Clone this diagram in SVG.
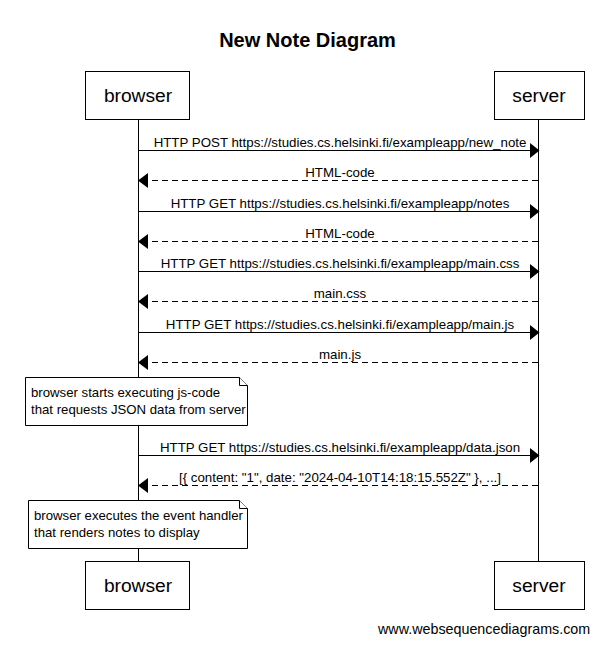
<svg xmlns="http://www.w3.org/2000/svg" width="615" height="648" viewBox="0 0 615 648">
<style>
text{font-family:"Liberation Sans",Arial,sans-serif;fill:#000}
.title{font-size:20px;font-weight:bold;text-anchor:middle}
.actor{font-size:19.2px;text-anchor:middle}
.box{fill:#fff;stroke:#000;stroke-width:1}
.life{stroke:#000;stroke-width:1}
.msg{font-size:13.3px;text-anchor:middle}
.solid{stroke:#000;stroke-width:1;fill:none}
.dash{stroke:#000;stroke-width:1;fill:none;stroke-dasharray:6,4}
.head{fill:#000}
.note{fill:#fff;stroke:#000;stroke-width:1}
.nt{font-size:13.2px}
.foot{font-size:14.3px}
</style>
<rect width="615" height="648" fill="#fff"/>
<text class="title" x="307.5" y="47">New Note Diagram</text>
<g id="lifelines">
<line class="life" x1="138.5" y1="120" x2="138.5" y2="561"/>
<line class="life" x1="538.5" y1="120" x2="538.5" y2="561"/>
</g>
<g id="browser">
<rect class="box" x="85.5" y="71.5" width="104" height="48"/>
<text class="actor" x="138" y="102">browser</text>
</g>
<g id="server">
<rect class="box" x="494.5" y="71.5" width="90" height="48"/>
<text class="actor" x="539" y="102">server</text>
</g>
<g id="browser-bottom">
<rect class="box" x="85.5" y="561.5" width="104" height="48"/>
<text class="actor" x="138" y="592">browser</text>
</g>
<g id="server-bottom">
<rect class="box" x="494.5" y="561.5" width="90" height="48"/>
<text class="actor" x="539" y="592">server</text>
</g>
<g id="connectors">
<line class="solid" x1="138" y1="150.5" x2="530" y2="150.5"/><polygon class="head" points="539.5,150.5 530,143 530,158"/>
<text class="msg" x="340" y="147">HTTP POST https://studies.cs.helsinki.fi/exampleapp/new_note</text>
<line class="dash" x1="538" y1="180.5" x2="148" y2="180.5"/><polygon class="head" points="138,180.5 148,173 148,188"/>
<text class="msg" x="340" y="177">HTML-code</text>
<line class="solid" x1="138" y1="211.5" x2="530" y2="211.5"/><polygon class="head" points="539.5,211.5 530,204 530,219"/>
<text class="msg" x="340" y="208">HTTP GET https://studies.cs.helsinki.fi/exampleapp/notes</text>
<line class="dash" x1="538" y1="241.5" x2="148" y2="241.5"/><polygon class="head" points="138,241.5 148,234 148,249"/>
<text class="msg" x="340" y="238">HTML-code</text>
<line class="solid" x1="138" y1="271.5" x2="530" y2="271.5"/><polygon class="head" points="539.5,271.5 530,264 530,279"/>
<text class="msg" x="340" y="268">HTTP GET https://studies.cs.helsinki.fi/exampleapp/main.css</text>
<line class="dash" x1="538" y1="301.5" x2="148" y2="301.5"/><polygon class="head" points="138,301.5 148,294 148,309"/>
<text class="msg" x="340" y="298">main.css</text>
<line class="solid" x1="138" y1="332.5" x2="530" y2="332.5"/><polygon class="head" points="539.5,332.5 530,325 530,340"/>
<text class="msg" x="340" y="329">HTTP GET https://studies.cs.helsinki.fi/exampleapp/main.js</text>
<line class="dash" x1="538" y1="362.5" x2="148" y2="362.5"/><polygon class="head" points="138,362.5 148,355 148,370"/>
<text class="msg" x="340" y="359">main.js</text>
<line class="solid" x1="138" y1="455.5" x2="530" y2="455.5"/><polygon class="head" points="539.5,455.5 530,448 530,463"/>
<text class="msg" x="340" y="452">HTTP GET https://studies.cs.helsinki.fi/exampleapp/data.json</text>
<line class="dash" x1="538" y1="485.5" x2="148" y2="485.5"/><polygon class="head" points="138,485.5 148,478 148,493"/>
<text class="msg" x="340" y="482">[{ content: "1", date: "2024-04-10T14:18:15.552Z" }, ...]</text>
</g>
<g id="note1">
<path class="note" d="M25.5,377.5 H239.5 L247.5,385.5 V425.5 H25.5 Z"/>
<path class="note" d="M239.5,377.5 V385.5 H247.5" fill="none"/>
<text class="nt" x="31" y="397">browser starts executing js-code</text>
<text class="nt" x="31" y="414">that requests JSON data from server</text>
</g>
<g id="note2">
<path class="note" d="M28.5,500.5 H239.5 L247.5,508.5 V548.5 H28.5 Z"/>
<path class="note" d="M239.5,500.5 V508.5 H247.5" fill="none"/>
<text class="nt" x="34" y="520">browser executes the event handler</text>
<text class="nt" x="34" y="537">that renders notes to display</text>
</g>
<text class="foot" x="378" y="634">www.websequencediagrams.com</text>
</svg>
